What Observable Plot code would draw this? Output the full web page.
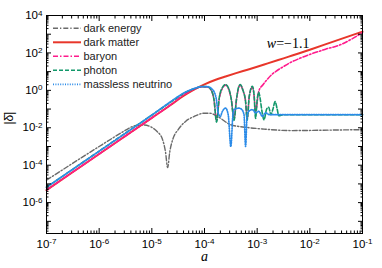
<!DOCTYPE html>
<html><head><meta charset="utf-8">
<script src="https://cdn.jsdelivr.net/npm/d3@7"></script>
<script src="https://cdn.jsdelivr.net/npm/@observablehq/plot@0.6"></script>
<style>body{margin:0;background:#fff} svg{display:block}</style>
</head><body><div id="chart"></div>
<script>
// values, as log10(a) and log10(|delta|)
const deLogA = [-7,-6,-5.6,-5.5,-5.3,-5.15,-5.0,-4.9,-4.8,-4.74,-4.70,-4.66,-4.6,-4.5,-4.36,-4.2,-4.0,-3.9,-3.75,-3.5,-3.2,-2.87,-2.36,-1.5,-1];
const deLogD = [-4.8,-3.0,-2.3,-2.13,-1.88,-1.85,-1.98,-2.2,-2.6,-3.3,-4.13,-3.3,-2.6,-2.1,-1.66,-1.4,-1.22,-1.22,-1.4,-1.84,-1.98,-2.07,-2.15,-2.12,-2.1];

const dmLogA = [-7,-6,-5,-4.6,-4.4,-4.2,-4.0,-3.8,-3.6,-3.4,-3.2,-3.0,-2.8,-2.6,-2.4,-2.2,-2.0,-1.5,-1];
const dmLogD = [-5.33,-3.40,-1.47,-0.70,-0.30,0.04,0.32,0.55,0.74,0.92,1.09,1.26,1.44,1.62,1.80,1.98,2.17,2.66,3.14];

const bLogA = [-7,-6,-5,-4.6,-4.4,-4.2,-4.05,-3.95,-3.87,-3.82,-3.77,-3.72,-3.66,-3.60,-3.54,-3.49,-3.44,-3.39,-3.35,-3.32,-3.27,-3.22,-3.19,-3.15,-3.09,-3.06,-3.03,-2.97,-2.89,-2.81,-2.72,-2.62,-2.5,-2.38,-2.2,-2.0,-1.7,-1.4,-1.2,-1];
const bLogD = [-5.33,-3.40,-1.47,-0.68,-0.25,0.05,0.18,0.18,0.0,-0.5,-1.6,-0.45,0.1,0.28,0.05,-0.5,-1.5,-0.45,0.15,0.28,0.0,-0.6,-1.5,-0.35,0.18,-0.25,-1.12,-0.05,0.3,0.58,0.85,1.06,1.27,1.47,1.7,1.92,2.2,2.46,2.75,3.09];

const gLogA = [-7,-6,-5,-4.6,-4.4,-4.2,-4.05,-3.95,-3.87,-3.82,-3.77,-3.72,-3.66,-3.60,-3.54,-3.49,-3.44,-3.39,-3.35,-3.32,-3.27,-3.22,-3.19,-3.15,-3.09,-3.06,-3.03,-3.00,-2.97,-2.94,-2.91,-2.87,-2.82,-2.78,-2.74,-2.70,-2.66,-2.62,-2.59,-2.5,-1];
const gLogD = [-5.18,-3.25,-1.32,-0.55,-0.17,0.08,0.2,0.2,0.0,-0.5,-1.7,-0.4,0.15,0.31,0.1,-0.5,-1.6,-0.4,0.2,0.31,0.0,-0.6,-1.6,-0.3,0.22,-0.2,-1.5,-0.5,-0.1,-0.5,-1.1,-1.57,-1.0,-0.9,-1.3,-1.0,-0.6,-1.0,-1.35,-1.30,-1.30];

const nLogA = [-7,-6,-5,-4.6,-4.4,-4.2,-4.05,-3.95,-3.85,-3.78,-3.74,-3.70,-3.66,-3.60,-3.55,-3.50,-3.46,-3.44,-3.35,-3.29,-3.25,-3.22,-3.19,-3.16,-3.09,-3.03,-2.97,-2.90,-2.84,-2.77,-2.6,-1];
const nLogD = [-5.18,-3.25,-1.32,-0.52,-0.15,0.1,0.2,0.2,0.05,-0.4,-1.2,-1.39,-1.12,-0.95,-1.3,-3.0,-1.3,-1.03,-0.95,-1.03,-1.3,-3.0,-1.3,-1.12,-1.03,-1.2,-1.12,-1.39,-1.2,-1.3,-1.30,-1.30];

const names = ["dark energy","dark matter","baryon","photon","massless neutrino"];
const colors = ["#6a6a6a","#e8362a","#ff1a8c","#11986a","#2b8be8"];
const widths = [1.4,2,1.6,1.6,1.7];
const dashes = ["5,2,1.3,2","none","5,2,1.5,2","4,2","1,1.4"];
const curves = [[deLogA,deLogD],[dmLogA,dmLogD],[bLogA,bLogD],[gLogA,gLogD],[nLogA,nLogD]];

const xMajor = [1e-7,1e-6,1e-5,1e-4,1e-3,1e-2,1e-1];
const yMajor = [1e-7,1e-6,1e-5,1e-4,1e-3,1e-2,1e-1,1,1e1,1e2,1e3,1e4];
const yLabeled = [1e-6,1e-4,1e-2,1,1e2,1e4];

const rows = curves.flatMap(([la, ld], k) => la.map((v, i) => ({a: 10 ** v, d: 10 ** ld[i], s: names[k]})));
const minors = (lo, hi) => d3.range(lo, hi).flatMap(e => d3.range(2, 10).map(m => m * 10 ** e));
const xMinor = minors(-7, -1);
const yDomain = [10 ** -7.65, 1e4];
const yMinor = minors(-8, 4).filter(v => v > yDomain[0] && v < yDomain[1]);
const fmt = d => "10^" + Math.round(Math.log10(d));

const tickMarks = [];
for (const anchor of ["bottom", "top"]) {
  tickMarks.push(Plot.axisX({anchor, ticks: xMajor, tickSize: -5, tickFormat: () => "", label: null}));
  tickMarks.push(Plot.axisX({anchor, ticks: xMinor, tickSize: -2.5, tickFormat: () => "", label: null}));
}
for (const anchor of ["left", "right"]) {
  tickMarks.push(Plot.axisY({anchor, ticks: yMajor, tickSize: -5, tickFormat: () => "", label: null}));
  tickMarks.push(Plot.axisY({anchor, ticks: yMinor, tickSize: -2.5, tickFormat: () => "", label: null}));
}

const chart = Plot.plot({
  width: 382, height: 268,
  marginLeft: 46, marginRight: 20, marginTop: 15, marginBottom: 35,
  style: {fontFamily: "'Liberation Sans', Arial, sans-serif", background: "#fff", color: "#000"},
  x: {type: "log", domain: [1e-7, 1e-1]},
  y: {type: "log", domain: yDomain},
  marks: [
    ...names.map((n, k) => Plot.line(rows.filter(r => r.s === n), {
      x: "a", y: "d", stroke: colors[k], strokeWidth: widths[k],
      strokeDasharray: dashes[k], curve: "monotone-x"
    })),
    Plot.frame({stroke: "#000", strokeWidth: 1}),
    ...tickMarks,
    Plot.axisX({anchor: "bottom", ticks: xMajor, tickSize: 0, tickPadding: 6, tickFormat: fmt, fontSize: 11.5, label: null}),
    Plot.axisY({anchor: "left", ticks: yLabeled, tickSize: 0, tickPadding: 4, tickFormat: fmt, fontSize: 11.5, label: null}),
    Plot.text(["a"], {frameAnchor: "bottom", dy: 27, text: d => d, fontStyle: "italic", fontFamily: "'Liberation Serif', 'Times New Roman', serif", fontSize: 14}),
    Plot.text(["|δ̄|"], {frameAnchor: "left", dx: -37, text: d => d, rotate: -90, fontSize: 12}),
    Plot.text(["w=−1.1"], {frameAnchor: "top-right", dx: -53, dy: 23, textAnchor: "end", text: d => d, fontFamily: "'Liberation Serif', 'Times New Roman', serif", fontSize: 14})
  ]
});

// superscript exponents in the tick labels
d3.select(chart).selectAll("text").each(function() {
  const t = this.textContent;
  const m = /^10\^(-?\d+)$/.exec(t);
  if (m) {
    const el = d3.select(this);
    el.text("10");
    el.append("tspan").attr("dy", "-0.45em").attr("font-size", "0.7em").text(m[1]);
  } else if (t === "w=−1.1") {
    const el = d3.select(this);
    el.text("");
    el.append("tspan").attr("font-style", "italic").text("w");
    el.append("tspan").text("=−1.1");
  }
});

// legend
const lg = d3.select(chart).append("g")
  .attr("font-family", "'Liberation Sans', Arial, sans-serif").attr("font-size", 11).attr("text-anchor", "start");
names.forEach((n, k) => {
  const y = 28.3 + k * 14;
  lg.append("line").attr("x1", 53).attr("x2", 81).attr("y1", y).attr("y2", y)
    .attr("stroke", colors[k]).attr("stroke-width", widths[k]).attr("stroke-dasharray", dashes[k] === "none" ? null : dashes[k]);
  lg.append("text").attr("x", 83.5).attr("y", y).attr("dy", "0.35em").attr("text-anchor", "start").attr("fill", "#222").text(n);
});

document.getElementById("chart").append(chart);
</script></body></html>
